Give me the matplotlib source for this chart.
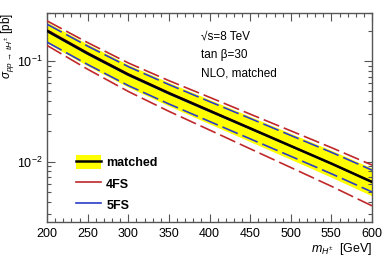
import numpy as np
import matplotlib
matplotlib.use("Agg")
import matplotlib.pyplot as plt
from matplotlib.lines import Line2D
from matplotlib.patches import Patch
from matplotlib.ticker import MultipleLocator, LogLocator, NullFormatter

plt.rcParams['font.family'] = ['Liberation Sans', 'DejaVu Sans']
plt.rcParams['mathtext.fontset'] = 'custom'
plt.rcParams['mathtext.rm'] = 'Liberation Sans'
plt.rcParams['mathtext.it'] = 'Liberation Sans:italic'

# charged Higgs mass [GeV]
mass = [200, 250, 300, 350, 400, 450, 500, 550, 600]

# matched NLO cross section and its band [pb]
matched = [0.1995, 0.1189, 0.0733, 0.0479, 0.0320, 0.0214, 0.01429, 0.00955, 0.00627]
matched_hi = [0.2432, 0.1472, 0.0920, 0.0611, 0.0414, 0.02812, 0.01905, 0.01294, 0.00861]
matched_lo = [0.151, 0.0895, 0.0550, 0.0357, 0.0237, 0.01578, 0.0105, 0.00698, 0.00456]

# 4FS central and uncertainty
fs4 = [0.204, 0.121, 0.0745, 0.0485, 0.0324, 0.0216, 0.0144, 0.0096, 0.0063]
fs4_hi = [0.2506, 0.1524, 0.0957, 0.0638, 0.0436, 0.02965, 0.02023, 0.01377, 0.00923]
fs4_lo = [0.1429, 0.0828, 0.0498, 0.0316, 0.0206, 0.0134, 0.00873, 0.00568, 0.00363]

# 5FS central and uncertainty
fs5 = [0.197, 0.117, 0.0722, 0.0472, 0.0316, 0.0212, 0.0142, 0.0095, 0.00625]
fs5_hi = [0.2323, 0.1406, 0.0879, 0.0583, 0.0395, 0.02685, 0.0182, 0.01236, 0.00822]
fs5_lo = [0.1542, 0.0923, 0.0570, 0.0374, 0.02506, 0.01683, 0.0113, 0.00757, 0.00499]

red = '#c0282a'
blue = '#2a3cc8'
dash = (0, (10, 3))

fig = plt.figure(figsize=(3.92, 2.66), dpi=100)
ax = fig.add_axes([0.120, 0.165, 0.829, 0.786])

ax.fill_between(mass, matched_lo, matched_hi, color='#ffff00', lw=0, zorder=1)
ax.plot(mass, fs5, color=blue, lw=1.2, zorder=2)
ax.plot(mass, fs4, color=red, lw=1.2, zorder=2)
for y in (fs4_hi, fs4_lo):
    ax.plot(mass, y, color=red, lw=1.2, ls=dash, zorder=3)
for y in (fs5_hi, fs5_lo):
    ax.plot(mass, y, color=blue, lw=1.2, ls=dash, zorder=3)
ax.plot(mass, matched, color='black', lw=1.8, zorder=4)

ax.set_yscale('log')
ax.set_xlim(200, 600)
ax.set_ylim(0.0025, 0.3)

ax.xaxis.set_major_locator(MultipleLocator(50))
ax.xaxis.set_minor_locator(MultipleLocator(10))
ax.yaxis.set_major_locator(LogLocator(base=10))
ax.yaxis.set_minor_locator(LogLocator(base=10, subs=np.arange(2, 10)))
ax.yaxis.set_minor_formatter(NullFormatter())

ax.tick_params(which='both', direction='in', top=True, right=True, labelsize=9,
               color='#555555')
ax.tick_params(which='major', length=6, width=0.8)
ax.tick_params(which='minor', length=3, width=0.8)
ax.tick_params(axis='x', pad=4)
for s in ax.spines.values():
    s.set_color('#555555')
    s.set_linewidth(1.0)

ax.set_xlabel(r'$m_{H^{\pm}}$  [GeV]', fontsize=9, loc='right', labelpad=1)
ax.set_ylabel(r'$\sigma_{pp\,\rightarrow\,tH^{\pm}}$ [pb]', fontsize=8.5, loc='top')
ax.yaxis.set_label_coords(-0.094, 1.0)

ax.text(0.475, 0.885, '√s=8 TeV', transform=ax.transAxes, fontsize=8.5, va='center')
ax.text(0.475, 0.800, 'tan β=30', transform=ax.transAxes, fontsize=8.5, va='center')
ax.text(0.475, 0.710, 'NLO, matched', transform=ax.transAxes, fontsize=8.5, va='center')

handles = [(Patch(facecolor='#ffff00', edgecolor='none'), Line2D([], [], color='black', lw=1.8)),
           Line2D([], [], color=red, lw=1.2),
           Line2D([], [], color=blue, lw=1.2)]
leg = ax.legend(handles, ['matched', '4FS', '5FS'], loc='lower left',
                bbox_to_anchor=(0.055, -0.005), frameon=False, handlelength=2.0,
                handleheight=1.4, labelspacing=0.55, handletextpad=0.4,
                prop={'weight': 'bold', 'size': 9})

fig.savefig('out.png', dpi=100)
